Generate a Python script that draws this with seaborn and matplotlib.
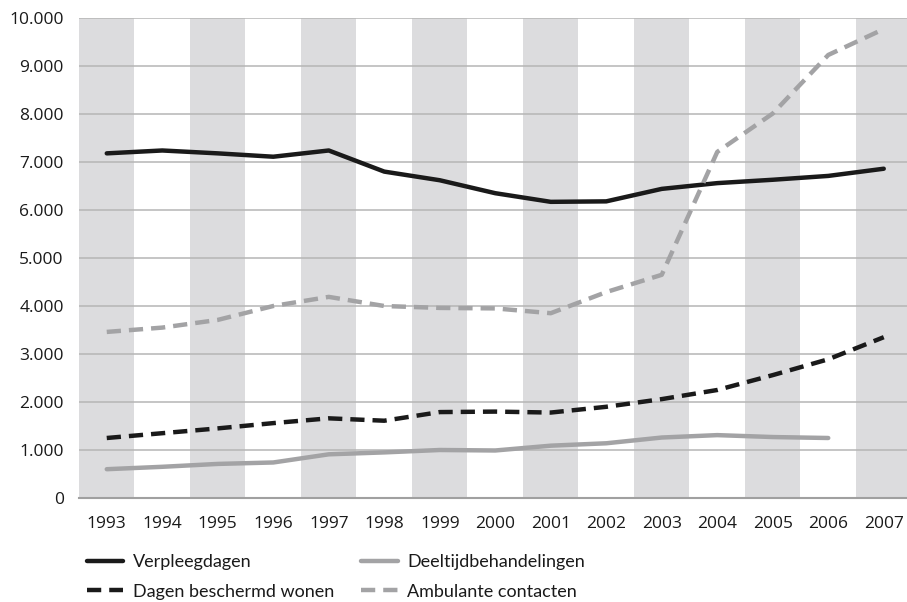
import numpy as np
import pandas as pd
import matplotlib
matplotlib.use('Agg')
import matplotlib.pyplot as plt
import seaborn as sns

years = list(range(1993, 2008))

verpleegdagen = [7180, 7240, 7180, 7110, 7240, 6800, 6620, 6350, 6170, 6180,
                 6440, 6560, 6630, 6710, 6860]
deeltijd = [600, 650, 710, 740, 910, 950, 1000, 990, 1090, 1140,
            1260, 1310, 1270, 1250, np.nan]
beschermd_wonen = [1250, 1350, 1450, 1560, 1660, 1610, 1790, 1800, 1780, 1900,
                   2060, 2250, 2560, 2890, 3350]
ambulant = [3460, 3550, 3710, 4000, 4190, 4000, 3960, 3950, 3850, 4290,
            4650, 7210, 8010, 9230, 9770]

series_names = ['Verpleegdagen', 'Dagen beschermd wonen',
                'Deeltijdbehandelingen', 'Ambulante contacten']
series_values = [verpleegdagen, beschermd_wonen, deeltijd, ambulant]

y_ticks = list(range(0, 10001, 1000))
y_labels = ['0', '1.000', '2.000', '3.000', '4.000', '5.000', '6.000',
            '7.000', '8.000', '9.000', '10.000']

df = pd.DataFrame({
    'jaar': years * len(series_names),
    'waarde': [v for vals in series_values for v in vals],
    'reeks': [n for n in series_names for _ in years],
})

sns.set_style('white')
plt.rcParams['font.family'] = ['Open Sans', 'DejaVu Sans']

black = '#1a1a1a'
grey = '#a3a3a5'
palette = {'Verpleegdagen': black, 'Dagen beschermd wonen': black,
           'Deeltijdbehandelingen': grey, 'Ambulante contacten': grey}
dashes = {'Verpleegdagen': '', 'Dagen beschermd wonen': (3.2, 1.8),
          'Deeltijdbehandelingen': '', 'Ambulante contacten': (3.2, 1.8)}

fig = plt.figure(figsize=(9.07, 6.02), dpi=100)
ax = fig.add_axes([79 / 907, 104 / 602, 828 / 907, 480 / 602])

# alternating grey bands behind the years
for i, yr in enumerate(years):
    if i % 2 == 0:
        ax.axvspan(yr - 0.5, yr + 0.5, color='#dcdcde', lw=0, zorder=0)

for t in y_ticks[1:]:
    ax.axhline(t, color='#b5b5b5', lw=1.1, zorder=1)

sns.lineplot(data=df, x='jaar', y='waarde', hue='reeks', style='reeks',
             palette=palette, dashes=dashes, hue_order=series_names,
             style_order=series_names, linewidth=3.2, ax=ax, zorder=3,
             legend=True)

ax.set_xlim(1992.5, 1992.5 + 828 / 55.5)
ax.set_ylim(0, 10000)
ax.set_xticks(years)
ax.set_xticklabels([str(y) for y in years], fontsize=12.5, color='#1a1a1a')
ax.set_yticks(y_ticks)
ax.set_yticklabels(y_labels, fontsize=12.5, color='#1a1a1a')
ax.set_xlabel('')
ax.set_ylabel('')
ax.tick_params(axis='x', direction='in', length=6, width=1, color='#a0a0a0', pad=13)
ax.tick_params(axis='y', length=0, pad=11)

for s in ['top', 'right', 'left']:
    ax.spines[s].set_visible(False)
ax.spines['bottom'].set_color('#a0a0a0')
ax.spines['bottom'].set_linewidth(1.5)

handles, labels = ax.get_legend_handles_labels()
ax.get_legend().remove()
leg = fig.legend(handles, labels, ncol=2, loc='upper left',
                 bbox_to_anchor=(78 / 907, 1 - 545 / 602), frameon=False,
                 prop={'family': 'Lato', 'size': 13}, borderpad=0,
                 handlelength=2.0, handletextpad=0.55,
                 columnspacing=1.5, labelspacing=0.75)
for t in leg.get_texts():
    t.set_color('#1a1a1a')

fig.savefig('out.png', dpi=100)
